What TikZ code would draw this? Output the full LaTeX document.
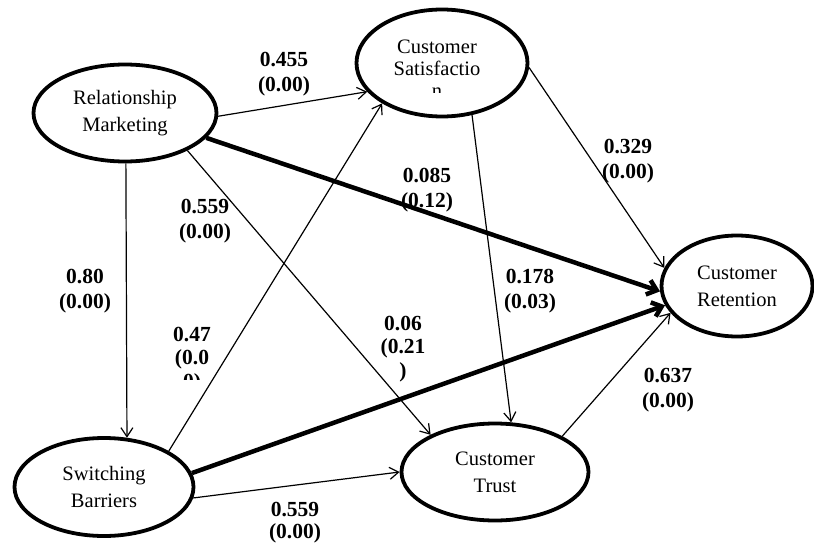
\documentclass[tikz,border=0pt]{standalone}
\usepackage{fontspec}
\setmainfont{Liberation Serif}
\usetikzlibrary{shapes.geometric,arrows.meta}
\tikzset{
  ell/.style={ellipse, draw, line width=3.8pt, inner sep=0pt, align=center,
    font=\fontsize{20.5}{27}\selectfont},
  txt/.style={align=center, inner sep=0pt, font=\fontsize{20.5}{22}\selectfont},
  lbl/.style={align=center, inner sep=0pt, font=\bfseries\fontsize{21.5}{25}\selectfont},
  thin/.style={line width=1.2pt, -{Straight Barb[length=9pt,width=12pt,line width=1.2pt]}},
  heavy/.style={line width=4.5pt, -{Straight Barb[length=9pt,width=15pt,line width=4.5pt]}},
}
\begin{document}
\begin{tikzpicture}[x=1pt,y=-1pt]
\useasboundingbox (0,0) rectangle (814,543);
% nodes
\node[ell, minimum width=183pt, minimum height=97pt] (rm) at (125,113) {Relationship\\Marketing};
\node[ell, minimum width=171pt, minimum height=107pt] (cs) at (442,63) {};
\begin{scope}
  \clip (350,10) rectangle (540,92);
  \node[txt] (cstext) at (437,69) {Customer\\Satisfactio\\n};
\end{scope}
\node[ell, minimum width=151pt, minimum height=101pt] (cr) at (737,286) {Customer\\Retention};
\node[ell, minimum width=179pt, minimum height=98pt] (sb) at (104,487) {Switching\\Barriers};
\node[ell, minimum width=187pt, minimum height=97pt] (ct) at (495,472) {Customer\\Trust};
% connectors
\draw[thin] (rm.-2) -- (cs.-159);
\draw[heavy] (rm.-17) -- (cr.-176);
\draw[thin] (rm.-31) -- (ct.150);
\draw[thin] (rm.-89) -- (sb.65);
\draw[thin] (sb.29) -- (cs.-146);
\draw[heavy] (sb.9) -- (cr.-165);
\draw[thin] (sb.-7) -- (ct.180);
\draw[thin] (cs.-60) -- (ct.72);
\draw[thin] (cs.-3) -- (cr.166);
\draw[thin] (ct.28) -- (cr.-158);
% labels
\node[lbl] (l1) at (284,74) {0.455\\(0.00)};
\node[lbl] (l2) at (427,190) {0.085\\(0.12)};
\node[lbl] (l3) at (205,221) {0.559\\(0.00)};
\node[lbl] (l4) at (85,291) {0.80\\(0.00)};
\begin{scope}
  \clip (150,320) rectangle (240,379);
  \node[lbl, font=\bfseries\fontsize{21.5}{23.5}\selectfont] (l5) at (192,360) {0.47\\(0.0\\0)};
\end{scope}
\node[lbl, font=\bfseries\fontsize{21.5}{23.5}\selectfont] (l6) at (403,349) {0.06\\(0.21\\)};
\node[lbl] (l7) at (530,291) {0.178\\(0.03)};
\node[lbl] (l8) at (628,161) {0.329\\(0.00)};
\node[lbl] (l9) at (668,390) {0.637\\(0.00)};
\node[lbl, font=\bfseries\fontsize{21.5}{22}\selectfont] (l10) at (295,523) {0.559\\(0.00)};
\end{tikzpicture}
\end{document}
